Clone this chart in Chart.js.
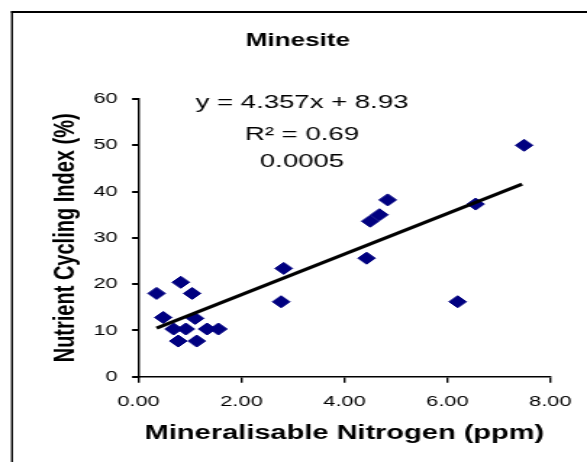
<!DOCTYPE html>
<html>
<head>
<meta charset="utf-8">
<script src="https://cdn.jsdelivr.net/npm/chart.js@4.4.0/dist/chart.umd.min.js"></script>
<style>
    html, body { margin: 0; padding: 0; background: #fff; overflow: hidden; }
    /* the source picture is stretched sideways, so the whole chart is drawn narrow and widened */
    #wrap { position: absolute; left: 0; top: 0; width: 405px; height: 462px; transform: scaleX(1.4494); transform-origin: 0 0; }
</style>
</head>
<body>
<div id="wrap"><canvas id="chart"></canvas></div>
<script>
    const chartTitle = 'Minesite';
    const xTitle = 'Mineralisable Nitrogen (ppm)';
    const yTitle = 'Nutrient Cycling Index (%)';
    const equationLines = ['y = 4.357x + 8.93', 'R\u00B2 = 0.69', '0.0005'];

    // points
    const nitrogen = [0.35, 0.48, 0.68, 0.77, 0.82, 0.92, 1.04, 1.10, 1.13, 1.33, 1.55, 2.77, 2.82, 4.43, 4.50, 4.68, 4.84, 6.20, 6.55, 7.49];
    const cycling = [18.0, 12.8, 10.3, 7.7, 20.4, 10.3, 18.0, 12.6, 7.7, 10.3, 10.3, 16.2, 23.4, 25.6, 33.6, 35.0, 38.2, 16.2, 37.3, 50.0];

    // trend line ends
    const trendX = [0.35, 7.45];
    const trendY = [10.5, 41.6];

    const xTicks = [0, 2, 4, 6, 8];
    const yTicks = [0, 10, 20, 30, 40, 50, 60];

    const STRETCH = 587 / 405;
    const FONT = '"Liberation Sans", Arial, sans-serif';

    const extras = {
        id: 'extras',
        beforeDraw(chart) {
            let ctx = chart.ctx;
            ctx.save();
            ctx.fillStyle = '#000';
            ctx.fillRect(11 / STRETCH, 11, chart.width, 2);
            ctx.fillRect(11 / STRETCH, 11, 2 / STRETCH, chart.height);
            ctx.restore();
        },
        afterDraw(chart) {
            let ctx = chart.ctx;
            let a = chart.chartArea;
            ctx.save();
            ctx.fillStyle = '#000';
            ctx.textAlign = 'center';
            ctx.textBaseline = 'alphabetic';

            ctx.font = 'bold 18px ' + FONT;
            ctx.fillText(chartTitle, 298 / STRETCH, 46);

            ctx.font = '19px ' + FONT;
            let baselines = [108, 140, 167];
            equationLines.forEach((t, i) => ctx.fillText(t, 302 / STRETCH, baselines[i]));

            ctx.font = 'bold 20px ' + FONT;
            ctx.fillText(xTitle, (a.left + a.right) / 2, 439);

            ctx.translate(51, (a.top + a.bottom) / 2);
            ctx.rotate(-Math.PI / 2);
            ctx.fillText(yTitle, 0, 0);
            ctx.restore();
        }
    };

    const ctx = document.getElementById('chart');
    const config = {
        type: 'scatter',
        data: {
            datasets: [
                {
                    type: 'line',
                    data: trendX.map((x, i) => ({ x: x, y: trendY[i] })),
                    borderColor: '#000',
                    borderWidth: 3,
                    pointRadius: 0,
                    fill: false,
                    tension: 0,
                    order: 0
                },
                {
                    data: nitrogen.map((x, i) => ({ x: x, y: cycling[i] })),
                    pointStyle: 'rectRot',
                    pointRadius: 6,
                    backgroundColor: '#000080',
                    borderColor: '#000080',
                    borderWidth: 1,
                    order: 1
                }
            ]
        },
        options: {
            responsive: true,
            maintainAspectRatio: false,
            animation: false,
            layout: { padding: { top: 99, right: 25.3, bottom: 0, left: 0 } },
            plugins: {
                legend: { display: false },
                tooltip: { enabled: false },
                title: { display: false }
            },
            scales: {
                x: {
                    type: 'linear',
                    min: 0,
                    max: 8,
                    afterBuildTicks: s => { s.ticks = xTicks.map(v => ({ value: v })); },
                    afterFit: s => { s.height = 85.3; },
                    ticks: {
                        color: '#000',
                        padding: 10,
                        maxRotation: 0,
                        font: { family: FONT, size: 15 },
                        callback: v => v.toFixed(2)
                    },
                    grid: { drawOnChartArea: false, drawTicks: true, tickLength: 6, color: '#000', lineWidth: 1.4 },
                    border: { color: '#000', width: 1.5 }
                },
                y: {
                    min: 0,
                    max: 60,
                    afterBuildTicks: s => { s.ticks = yTicks.map(v => ({ value: v })); },
                    afterFit: s => { s.width = 95.6; },
                    ticks: {
                        color: '#000',
                        padding: 10,
                        font: { family: FONT, size: 15 }
                    },
                    grid: { drawOnChartArea: false, drawTicks: true, tickLength: 4.5, color: '#000', lineWidth: 2 },
                    border: { color: '#000', width: 1.4 }
                }
            }
        },
        plugins: [extras]
    };

    const myChart = new Chart(ctx, config);
</script>
</body>
</html>
